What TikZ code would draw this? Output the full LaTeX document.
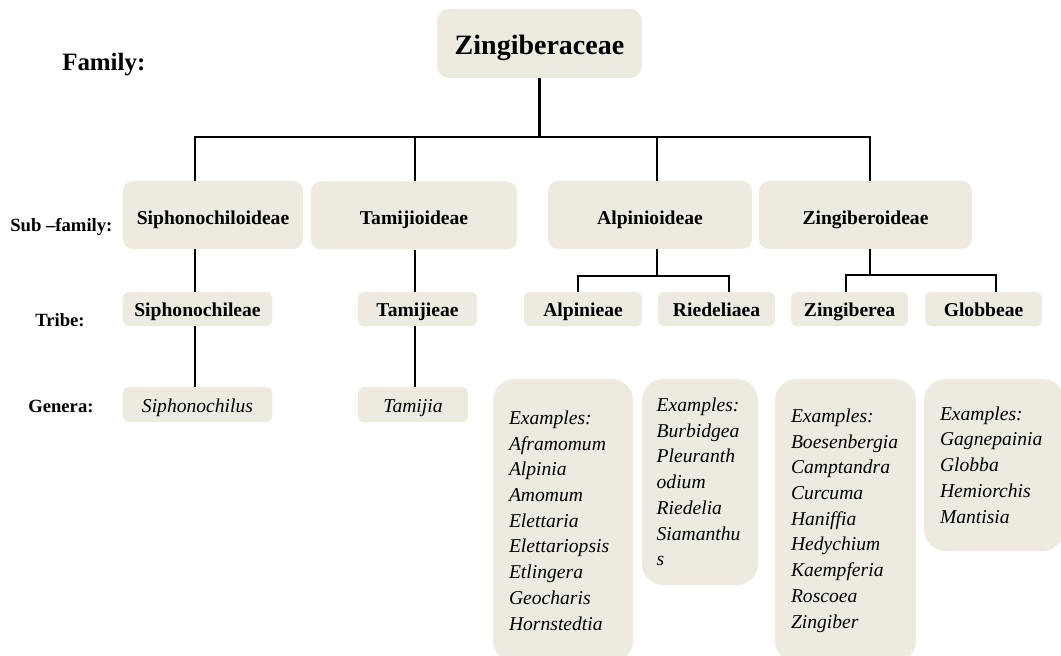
\documentclass[tikz,border=0pt]{standalone}
\usepackage{fontspec}
\setmainfont{Liberation Serif}
\usepackage{xcolor}
\usepackage{tikz}

\definecolor{boxbeige}{RGB}{237,234,224}

\begin{document}
\begin{tikzpicture}[x=0.75pt, y=-0.75pt,
		taxon/.style={rectangle, fill=boxbeige, rounded corners=7.5pt, inner sep=0pt, align=center, minimum height=51pt, text height=13.5pt, text depth=0pt, font=\bfseries\fontsize{14.7}{17}\selectfont},
		tribe/.style={taxon, rounded corners=4pt, minimum height=25.5pt, text height=11.6pt},
		genus/.style={tribe, minimum height=26.25pt, font=\itshape\fontsize{14.7}{17}\selectfont},
		examples/.style={rectangle, fill=boxbeige, rounded corners=16pt, inner xsep=12pt, inner ysep=0pt, align=left, font=\itshape\fontsize{14.7}{19.3}\selectfont\hyphenpenalty10000\relax},
		rank/.style={anchor=base west, inner sep=0pt, font=\bfseries\fontsize{14}{17}\selectfont},
		link/.style={line width=2.2pt}
	]
		\useasboundingbox (0,0) rectangle (1061,656);

		% Family
		\node[taxon, minimum width=153.75pt, minimum height=51.75pt, rounded corners=9pt, text height=17.2pt, font=\bfseries\fontsize{21}{25}\selectfont] (zingiberaceae) at (539.5,43.5) {Zingiberaceae};

		% Sub-families
		\node[taxon, minimum width=135pt] (siphonochiloideae) at (213,215) {Siphonochiloideae};
		\node[taxon, minimum width=154.5pt] (tamijioideae) at (414,215.5) {Tamijioideae};
		\node[taxon, minimum width=153pt] (alpinioideae) at (650,215) {Alpinioideae};
		\node[taxon, minimum width=159.75pt] (zingiberoideae) at (865.5,215) {Zingiberoideae};

		% Tribes
		\node[tribe, minimum width=111.75pt] (siphonochileae) at (197.5,309) {Siphonochileae};
		\node[tribe, minimum width=89.25pt] (tamijieae) at (417.5,309) {Tamijieae};
		\node[tribe, minimum width=88.5pt] (alpinieae) at (583,309) {Alpinieae};
		\node[tribe, minimum width=87.75pt] (riedeliaea) at (716.5,309) {Riedeliaea};
		\node[tribe, minimum width=87.75pt] (zingiberea) at (849.5,309) {Zingiberea};
		\node[tribe, minimum width=87.75pt] (globbeae) at (983.5,309) {Globbeae};

		% Genera
		\node[genus, minimum width=111.75pt] (siphonochilus) at (197.5,404.5) {Siphonochilus};
		\node[genus, minimum width=82.5pt] (tamijia) at (413,404.5) {Tamijia};
		\node[examples, text width=81pt, minimum height=212.25pt] (alpinieaegenera) at (563,520.5) {Examples:\\Aframomum\\Alpinia\\Amomum\\Elettaria\\Elettariopsis\\Etlingera\\Geocharis\\Hornstedtia};
		\node[examples, inner xsep=11pt, text width=65pt, minimum height=154.5pt] (riedeliaeagenera) at (700,482) {Examples:\\Burbidgea\\Pleuranth\\odium\\Riedelia\\Siamanthu\\s};
		\node[examples, text width=81.75pt, minimum height=212.25pt] (zingibereagenera) at (845.5,520.5) {Examples:\\Boesenbergia\\Camptandra\\Curcuma\\Haniffia\\Hedychium\\Kaempferia\\Roscoea\\Zingiber};
		\node[examples, text width=81pt, minimum height=129pt] (globbeaegenera) at (994,465) {Examples:\\Gagnepainia\\Globba\\Hemiorchis\\Mantisia};

		% Rank labels
		\node[rank, font=\bfseries\fontsize{18.7}{22}\selectfont] (lfamily) at (62,71) {Family:};
		\node[rank] (lsubfamily) at (10,231.5) {Sub --family:};
		\node[rank] (ltribe) at (35,326) {Tribe:};
		\node[rank] (lgenera) at (28,412) {Genera:};

		% Connectors
		\coordinate (d1) at (195,137);
		\coordinate (d2) at (415,137);
		\coordinate (d3) at (657,137);
		\coordinate (d4) at (870,137);
		\coordinate (a2) at (578,276);
		\coordinate (a3) at (729,276);
		\coordinate (z2) at (846,275);
		\coordinate (z3) at (996,275);

		\draw[link] (zingiberaceae.south) -- (zingiberaceae.south |- d1);
		\draw[link] (d1 |- siphonochiloideae.north) |- (d4) -- (d4 |- zingiberoideae.north);
		\draw[link] (d2) -- (d2 |- tamijioideae.north);
		\draw[link] (d3) -- (d3 |- alpinioideae.north);

		\draw[link] (siphonochiloideae.south -| d1) -- (siphonochileae.north -| d1);
		\draw[link] (siphonochileae.south -| d1) -- (siphonochilus.north -| d1);
		\draw[link] (tamijioideae.south -| d2) -- (tamijieae.north -| d2);
		\draw[link] (tamijieae.south -| d2) -- (tamijia.north -| d2);

		\draw[link] (alpinioideae.south -| d3) -- (a2 -| d3);
		\draw[link] (a2 |- alpinieae.north) -- (a2) -- (a3) -- (a3 |- riedeliaea.north);
		\draw[link] (zingiberoideae.south -| d4) -- (z2 -| d4);
		\draw[link] (z2 |- zingiberea.north) -- (z2) -- (z3) -- (z3 |- globbeae.north);
	\end{tikzpicture}
\end{document}
